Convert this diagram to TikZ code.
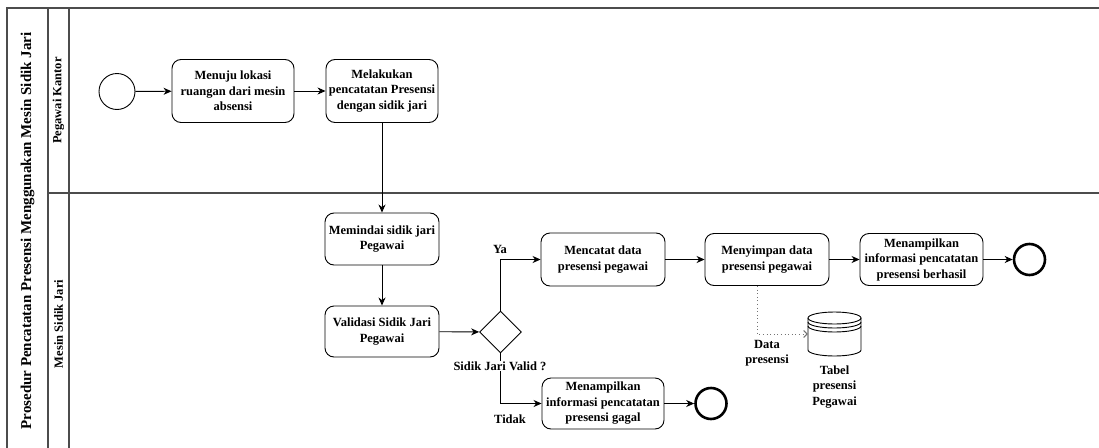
\documentclass[tikz,border=0pt]{standalone}
\usepackage{fontspec}
\setmainfont{Liberation Serif}
\usetikzlibrary{arrows.meta,shapes.geometric}

\begin{document}
\begin{tikzpicture}[x=1pt,y=-1pt,
  txt/.style={font=\bfseries\fontsize{12.5}{15.5}\selectfont, align=center},
  task/.style={txt, draw, rounded corners=9pt, line width=0.9pt, inner sep=0pt},
  startev/.style={draw, circle, line width=0.9pt, minimum size=36pt, inner sep=0pt},
  endev/.style={draw, circle, line width=2.6pt, minimum size=31pt, inner sep=0pt},
  gateway/.style={draw, diamond, aspect=1, line width=0.9pt, minimum size=42pt, inner sep=0pt},
  flow/.style={line width=0.9pt, -{Stealth[length=8pt,width=7pt,inset=2.5pt]}},
  assoc/.style={line width=1pt, black!55, dash pattern=on 1pt off 2.6pt,
    -{Straight Barb[length=3.5pt,width=7pt]}},
  pool/.style={line width=1.4pt, black!70},
  lanelabel/.style={font=\bfseries\fontsize{12.5}{14}\selectfont, rotate=90}
]
\clip (0,0) rectangle (1099,447);
\fill[white] (0,0) rectangle (1099,447);

% pool and lanes
\draw[pool] (7,460) -- (7,8) -- (1110,8);
\draw[pool] (48,8) -- (48,460);
\draw[pool] (69,8) -- (69,460);
\draw[pool] (48,193) -- (1110,193);

\node[font=\bfseries\fontsize{15}{18}\selectfont, rotate=90] (title) at (27.5,231)
  {Prosedur Pencatatan Presensi Menggunakan Mesin Sidik Jari};
\node[lanelabel] (lane1) at (58.5,100.5) {Pegawai Kantor};
\node[lanelabel] (lane2) at (58.5,324) {Mesin Sidik Jari};

% Pegawai Kantor lane
\node[startev] (start) at (117,91.5) {};
\node[task, minimum width=122pt, minimum height=63pt] (t1) at (233,91)
  {Menuju lokasi\\ruangan dari mesin\\absensi};
\node[task, minimum width=112pt, minimum height=63pt] (t2) at (382,91)
  {Melakukan\\pencatatan Presensi\\dengan sidik jari};

% Mesin Sidik Jari lane
\node[task, minimum width=114pt, minimum height=52pt] (t3) at (382,239)
  {Memindai sidik jari\\Pegawai};
\node[task, minimum width=114pt, minimum height=51pt] (t4) at (382,331.5)
  {Validasi Sidik Jari\\Pegawai};
\node[gateway] (gw) at (500.5,332) {};
\node[task, minimum width=124pt, minimum height=53pt] (t5) at (603,259.5)
  {Mencatat data\\presensi pegawai};
\node[task, minimum width=122pt, minimum height=51pt] (t6) at (603,403.5)
  {Menampilkan\\informasi pencatatan\\presensi gagal};
\node[task, minimum width=124pt, minimum height=52pt] (t7) at (767,259.5)
  {Menyimpan data\\presensi pegawai};
\node[task, minimum width=123pt, minimum height=52pt] (t8) at (921.5,259.5)
  {Menampilkan\\informasi pencatatan\\presensi berhasil};
\node[endev] (end1) at (1029.5,259.5) {};
\node[endev] (end2) at (711,403.5) {};

% data store
\node[minimum width=53pt, minimum height=46pt, inner sep=0pt] (store) at (834.5,334) {};
\begin{scope}[shift={(store.center)}, yscale=-1, line width=0.9pt]
  \draw[fill=white] (-26.5,16) -- (-26.5,-16)
    arc[start angle=180, end angle=360, x radius=26.5, y radius=6]
    -- (26.5,16);
  \draw (0,16) ellipse[x radius=26.5, y radius=6];
  \draw (-26.5,12) arc[start angle=180, end angle=360, x radius=26.5, y radius=6];
  \draw (-26.5,8) arc[start angle=180, end angle=360, x radius=26.5, y radius=6];
\end{scope}
\node[txt] (storelabel) at (834.5,387) {Tabel\\presensi\\Pegawai};

% sequence flows
\draw[flow] (start) -- (t1);
\draw[flow] (t1) -- (t2);
\draw[flow] (t2) -- (t3);
\draw[flow] (t3) -- (t4);
\draw[flow] (t4) -- (gw);
\draw[flow] (gw.north) |- (t5.west);
\draw[flow] (gw.south) |- (t6.west);
\draw[flow] (t5) -- (t7);
\draw[flow] (t7) -- (t8);
\draw[flow] (t8) -- (end1);
\draw[flow] (t6) -- (end2);

% data association
\coordinate (assocx) at (757,0);
\draw[assoc] (t7.south -| assocx) |- (store.west);

% labels
\node[txt] (ya) at (500,249) {Ya};
\node[txt, fill=white, inner sep=1pt] (cond) at (500,366) {Sidik Jari Valid ?};
\node[txt] (tidak) at (510,419) {Tidak};
\node[txt] (datalabel) at (767,353) {Data\\presensi};
\end{tikzpicture}
\end{document}
